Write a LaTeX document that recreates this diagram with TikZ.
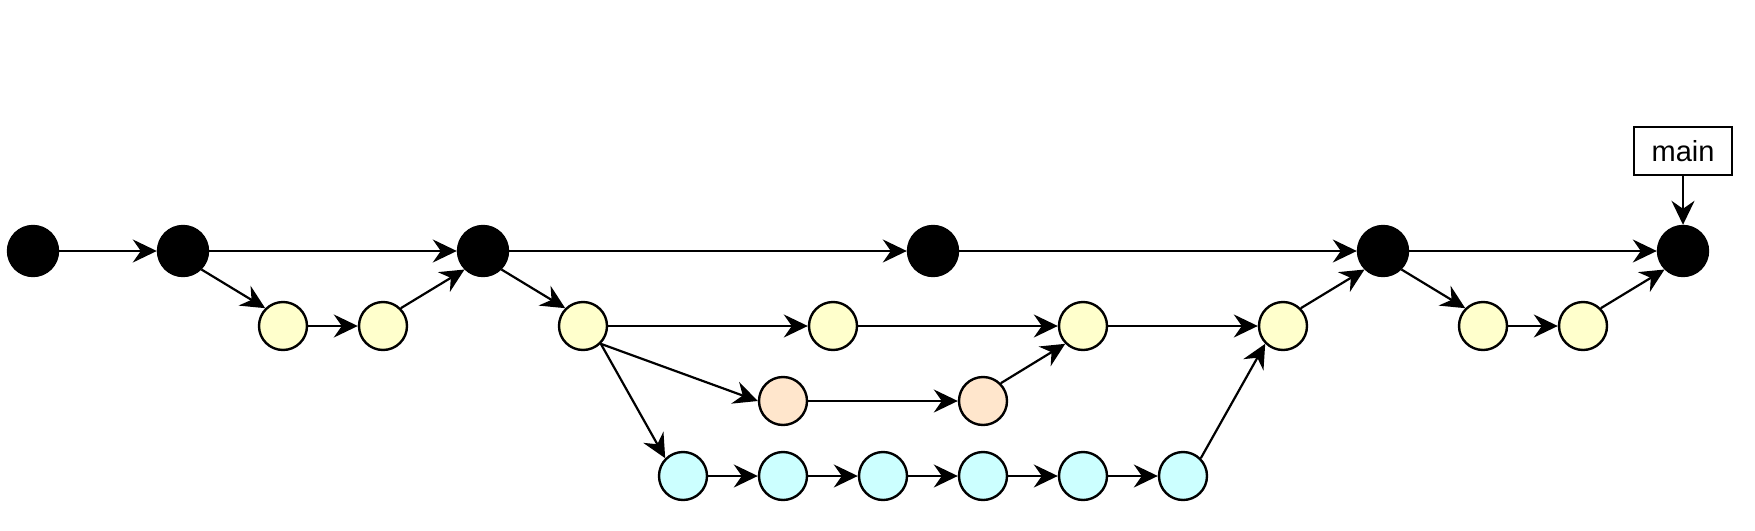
\documentclass[tikz,border=0pt]{standalone}
\usepackage{fontspec}
\setmainfont{Liberation Sans}
\usetikzlibrary{arrows.meta}
\definecolor{cyel}{HTML}{FFFFCC}
\definecolor{corg}{HTML}{FFE6CC}
\definecolor{ccyn}{HTML}{CCFFFF}
\begin{document}
\begin{tikzpicture}[x=1pt,y=-1pt,
  blk/.style={circle,fill=black,draw=black,line width=2.4pt,minimum size=50pt,inner sep=0pt},
  yel/.style={circle,fill=cyel,draw=black,line width=2.4pt,minimum size=48pt,inner sep=0pt},
  org/.style={circle,fill=corg,draw=black,line width=2.4pt,minimum size=48pt,inner sep=0pt},
  cyn/.style={circle,fill=ccyn,draw=black,line width=2.4pt,minimum size=48pt,inner sep=0pt},
  lbl/.style={rectangle,draw=black,line width=2.2pt,minimum width=98pt,minimum height=48pt,inner sep=0pt,font=\fontsize{29}{33}\selectfont},
  edge/.style={line width=2.2pt,-{Stealth[length=24pt,width=23pt,inset=8pt]}}]
\useasboundingbox (0,0) rectangle (1755,530);
% black commits
\node[blk] (b1) at (33,251) {};
\node[blk] (b2) at (183,251) {};
\node[blk] (b3) at (483,251) {};
\node[blk] (b4) at (933,251) {};
\node[blk] (b5) at (1383,251) {};
\node[blk] (b6) at (1683,251) {};
% yellow
\node[yel] (y1) at (283,326) {};
\node[yel] (y2) at (383,326) {};
\node[yel] (y3) at (583,326) {};
\node[yel] (y4) at (833,326) {};
\node[yel] (y5) at (1083,326) {};
\node[yel] (y6) at (1283,326) {};
\node[yel] (y7) at (1483,326) {};
\node[yel] (y8) at (1583,326) {};
% orange
\node[org] (o1) at (783,401) {};
\node[org] (o2) at (983,401) {};
% cyan
\node[cyn] (c1) at (683,476) {};
\node[cyn] (c2) at (783,476) {};
\node[cyn] (c3) at (883,476) {};
\node[cyn] (c4) at (983,476) {};
\node[cyn] (c5) at (1083,476) {};
\node[cyn] (c6) at (1183,476) {};
% label
\node[lbl] (main) at (1683,151) {main};
% edges
\draw[edge] (b1) -- (b2);
\draw[edge] (b2) -- (b3);
\draw[edge] (b2.south east) -- (y1.north west);
\draw[edge] (y1) -- (y2);
\draw[edge] (y2.north east) -- (b3.south west);
\draw[edge] (b3) -- (b4);
\draw[edge] (b4) -- (b5);
\draw[edge] (b3.south east) -- (y3.north west);
\draw[edge] (y3) -- (y4);
\draw[edge] (y4) -- (y5);
\draw[edge] (y5) -- (y6);
\draw[edge] (y6.north east) -- (b5.south west);
\draw[edge] (y3.south east) -- (o1.west);
\draw[edge] (o1) -- (o2);
\draw[edge] (o2.north east) -- (y5.south west);
\draw[edge] (y3.south east) -- (c1.north west);
\draw[edge] (c1) -- (c2);
\draw[edge] (c2) -- (c3);
\draw[edge] (c3) -- (c4);
\draw[edge] (c4) -- (c5);
\draw[edge] (c5) -- (c6);
\draw[edge] (c6.north east) -- (y6.south west);
\draw[edge] (b5) -- (b6);
\draw[edge] (b5.south east) -- (y7.north west);
\draw[edge] (y7) -- (y8);
\draw[edge] (y8.north east) -- (b6.south west);
\draw[edge] (main) -- (b6);
\end{tikzpicture}
\end{document}
